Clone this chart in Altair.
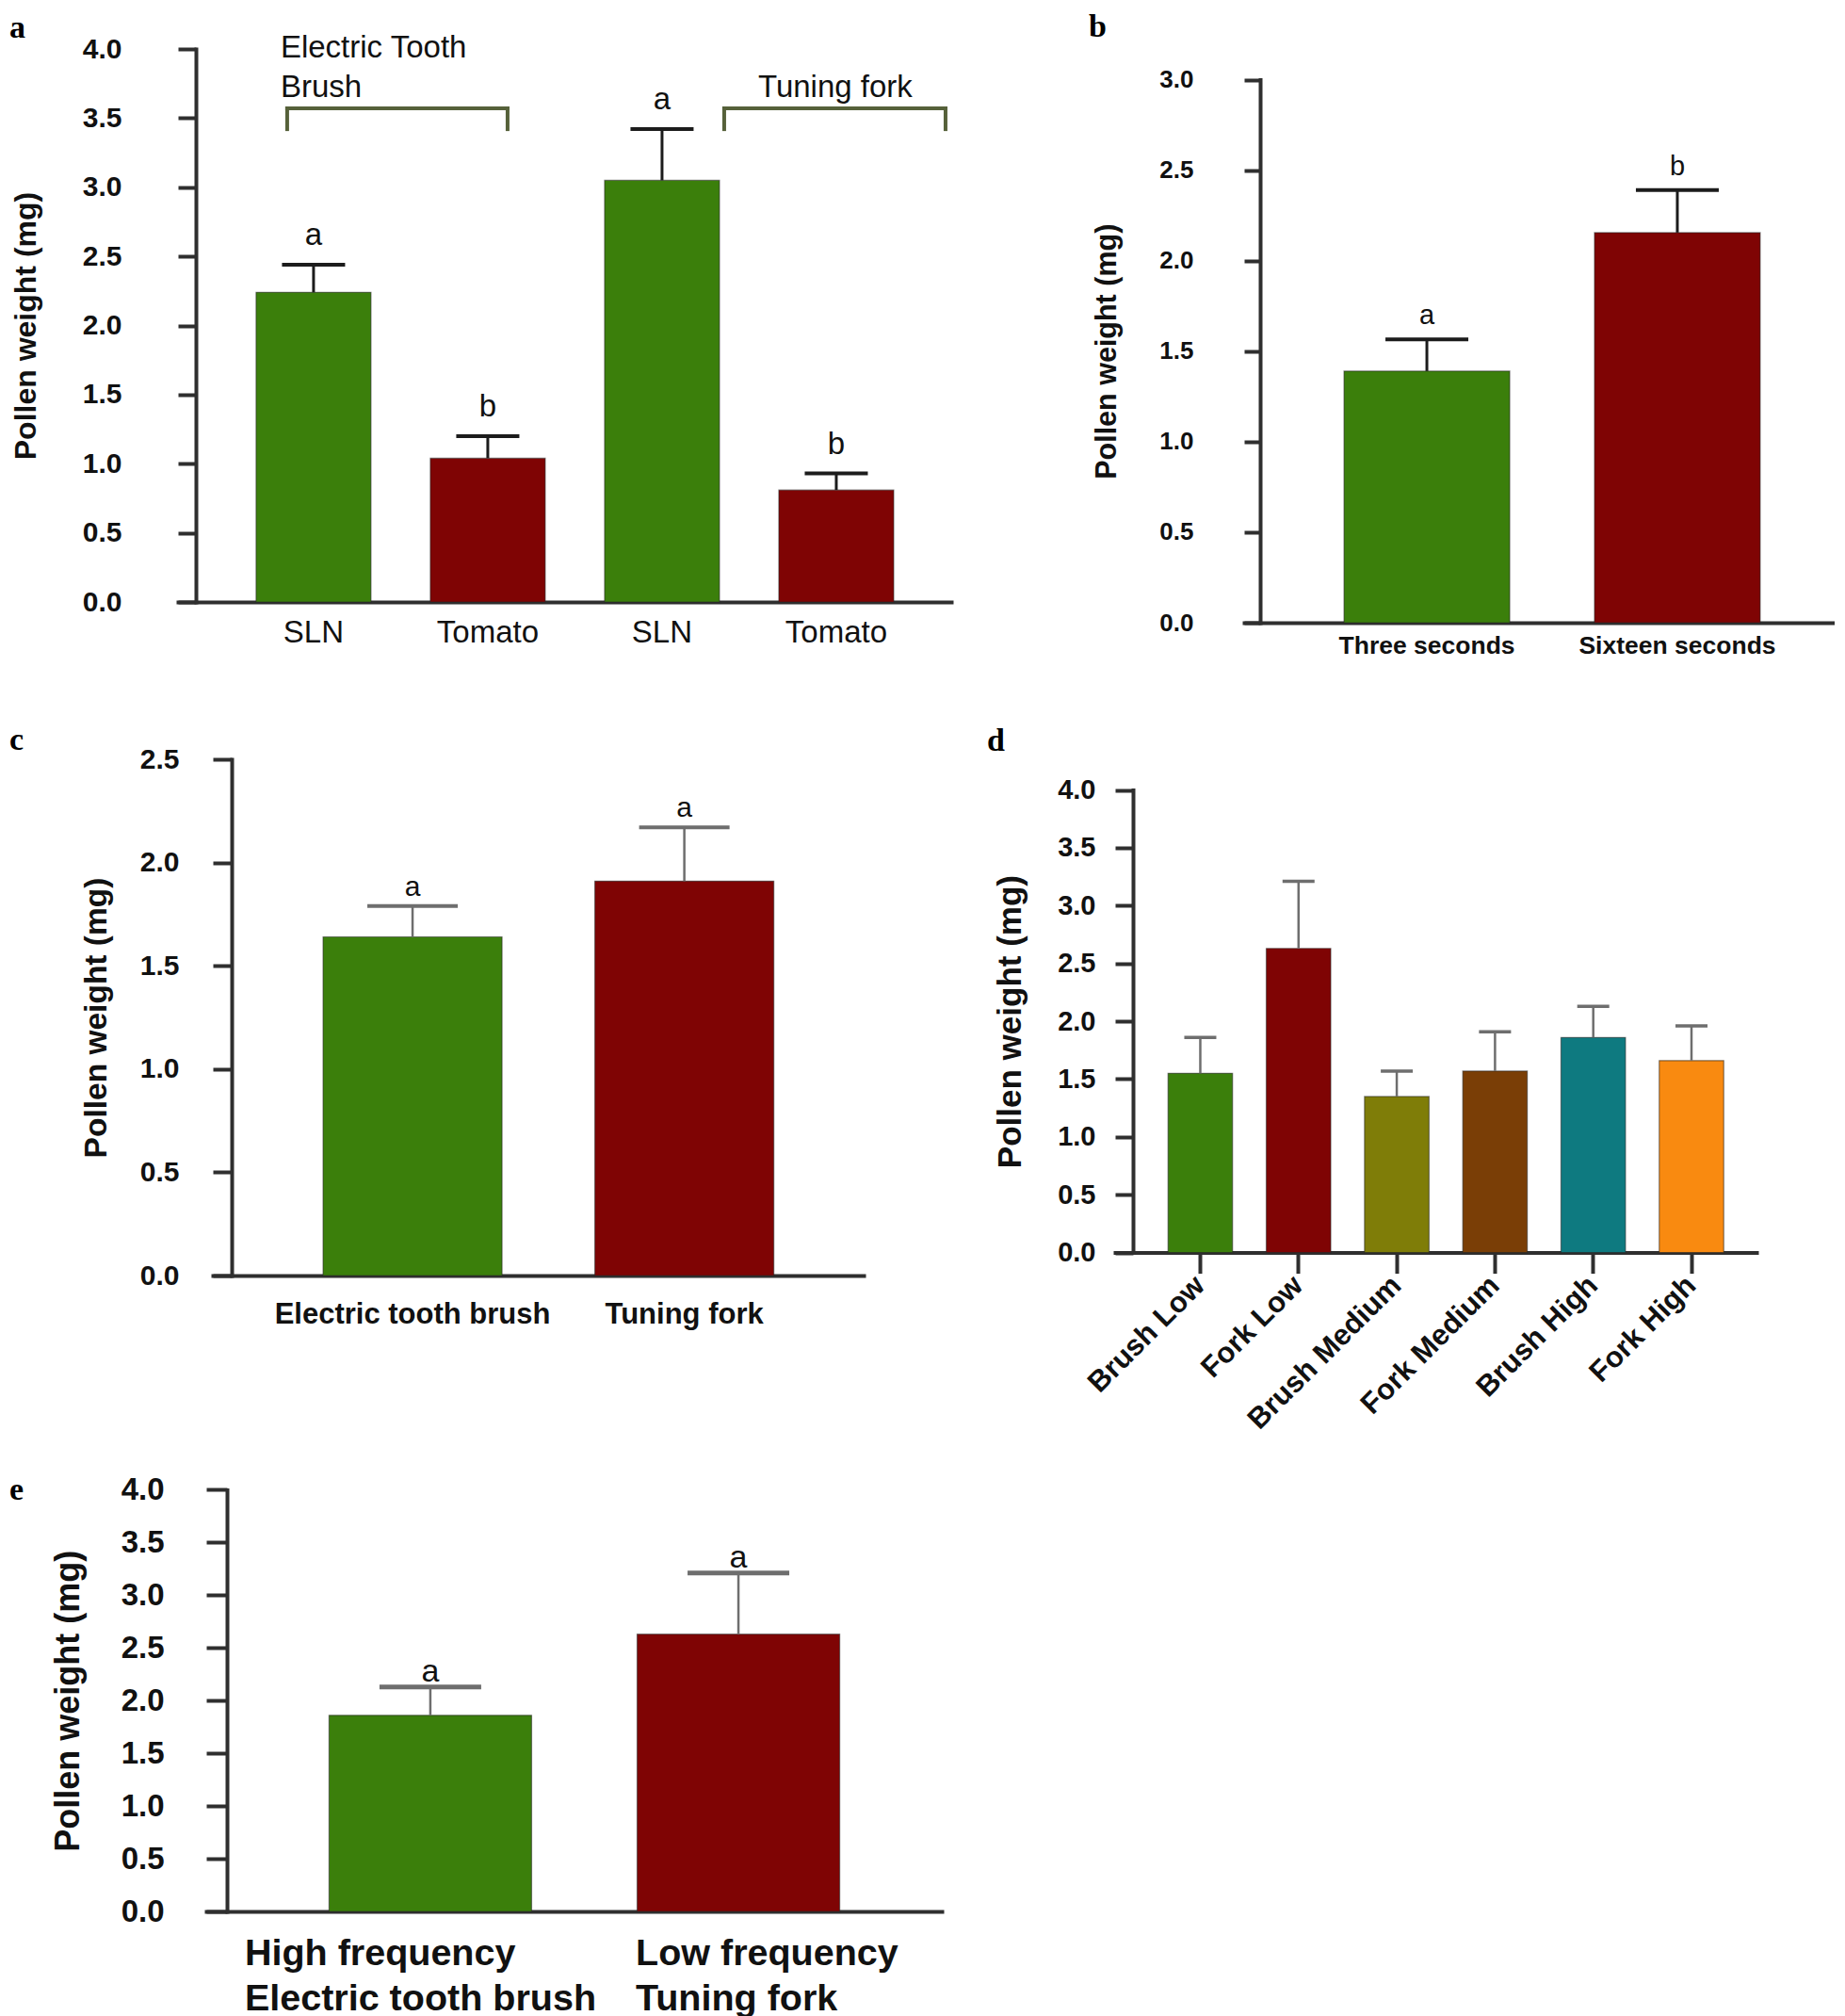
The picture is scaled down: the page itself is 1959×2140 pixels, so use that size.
import altair as alt
import pandas as pd

SANS = "Liberation Sans"
SERIF = "Liberation Serif"
AX = "#2f2f2f"
TXT = "#111111"
ERR_DARK = "#1c1c1c"
ERR_GRAY = "#6e6e6e"
BRACKET = "#56613a"
GREEN = "#3b7f0b"
RED = "#7f0404"

# ---------------- data ----------------
a_cats = ["SLN-brush", "Tomato-brush", "SLN-fork", "Tomato-fork"]
a_labels = ["SLN", "Tomato", "SLN", "Tomato"]
a_means = [2.24, 1.04, 3.05, 0.81]
a_errs = [2.44, 1.20, 3.42, 0.93]
a_letters = ["a", "b", "a", "b"]
a_colors = [GREEN, RED, GREEN, RED]
a_groups = ["Electric Tooth\nBrush", "Tuning fork"]

b_cats = ["Three seconds", "Sixteen seconds"]
b_means = [1.39, 2.155]
b_errs = [1.565, 2.39]
b_letters = ["a", "b"]
b_colors = [GREEN, RED]

c_cats = ["Electric tooth brush", "Tuning fork"]
c_means = [1.64, 1.91]
c_errs = [1.79, 2.17]
c_letters = ["a", "a"]
c_colors = [GREEN, RED]

d_cats = ["Brush Low", "Fork Low", "Brush Medium", "Fork Medium", "Brush High", "Fork High"]
d_means = [1.55, 2.63, 1.35, 1.57, 1.86, 1.66]
d_errs = [1.86, 3.21, 1.57, 1.91, 2.13, 1.96]
d_letters = ["", "", "", "", "", ""]
d_colors = [GREEN, RED, "#7f7d08", "#7a3e06", "#0e7a80", "#f98a10"]

e_cats = ["High frequency", "Low frequency"]
e_sub = ["Electric tooth brush", "Tuning fork"]
e_means = [1.86, 2.63]
e_errs = [2.13, 3.21]
e_letters = ["a", "a"]
e_colors = [GREEN, RED]

ticks4 = [0.0, 0.5, 1.0, 1.5, 2.0, 2.5, 3.0, 3.5, 4.0]
ticks3 = [0.0, 0.5, 1.0, 1.5, 2.0, 2.5, 3.0]
ticks25 = [0.0, 0.5, 1.0, 1.5, 2.0, 2.5]


def ternary_expr(keys, values):
    expr = values[-1]
    for k, v in reversed(list(zip(keys[:-1], values[:-1]))):
        expr = f"datum.value == '{k}' ? {v} : ({expr})"
    return expr


def panel(cats, means, errs, colors, letters, s, letter, label_expr=None, extra=None):
    df = pd.DataFrame({"cat": cats, "mean": means, "err": errs,
                       "color": colors, "letter": letters})
    xs = alt.Scale(domain=cats, range=[s["ax0"] - s["ytick"], s["W"]],
                   paddingInner=s["pi"], paddingOuter=s["po"], align=s["align"])
    ys = alt.Scale(domain=[0, s["ticks"][-1]], range=[s["H"], s["gap"]],
                   nice=False, zero=False)
    xkw = dict(title=None, domain=True, domainColor=AX, domainWidth=4,
               domainCap="square", labelFont=SANS, labelFontSize=s["xfs"],
               labelFontWeight=s["xfw"], labelColor=TXT, labelPadding=s["xpad"],
               labelLimit=0, labelOverlap=False, grid=False,
               ticks=s["xtick"] > 0, tickSize=s["xtick"], tickWidth=4,
               tickColor=AX, labelAngle=s.get("angle", 0))
    if label_expr:
        xkw["labelExpr"] = label_expr
    xkw.update(s.get("xextra", {}))
    xaxis = alt.Axis(**xkw)
    yaxis = alt.Axis(values=s["ticks"], format=".1f", domain=True, domainColor=AX,
                     domainWidth=4, domainCap="square", ticks=True,
                     tickSize=s["ytick"], tickWidth=4, tickColor=AX,
                     labelPadding=s["ypad"], labelFont=SANS,
                     labelFontSize=s["yfs"],
                     labelFontWeight="bold", labelColor=TXT, grid=False,
                     title="Pollen weight (mg)", titleFont=SANS,
                     titleFontSize=s["tfs"], titleFontWeight="bold", titleColor=TXT,
                     titleX=s["tx"], titleY=s["gap"] + (s["H"] - s["gap"]) / 2,
                     titleAngle=270, titleAlign="center", titleBaseline="middle",
                     offset=-s["ax0"])
    X = alt.X("cat:N", sort=cats, scale=xs, axis=xaxis)

    def Y(f):
        return alt.Y(f"{f}:Q", scale=ys, axis=yaxis)

    base = alt.Chart(df)
    bars = base.mark_bar(stroke="#262626", strokeWidth=1.2, strokeOpacity=0.55).encode(
        x=X, y=Y("mean"), color=alt.Color("color:N", scale=None))
    stem = base.mark_rule(color=s["ec"], strokeWidth=s["ew"]).encode(
        x=X, y=Y("mean"), y2="err:Q")
    cap = base.mark_tick(orient="horizontal", color=s["ec"], size=s["cap"],
                         thickness=s["capw"], opacity=1).encode(x=X, y=Y("err"))
    layers = [bars, stem, cap]
    if any(letters):
        txt = base.mark_text(font=SANS, fontSize=s["lfs"], dy=-s["lgap"],
                             baseline="alphabetic", color=TXT).encode(
            x=X, y=Y("err"), text="letter:N")
        layers.append(txt)
    if extra:
        layers += extra(X, Y)
    title = alt.TitleParams(text=letter, anchor="start", frame="group", orient="top",
                            offset=0, dx=s["pdx"], dy=s["pdy"], font=SERIF,
                            fontSize=34, fontWeight="bold", color="black",
                            baseline="alphabetic")
    return alt.layer(*layers).properties(width=s["W"], height=s["H"], title=title)


# ---------------- panel a ----------------
sa = dict(W=802, H=587, gap=0, ax0=0, ytick=19, pi=0.3405, po=0.389, align=0.576,
          ticks=ticks4, yfs=30, ypad=60, tfs=32, tx=-181,
          xfs=33, xfw="normal", xpad=16, xtick=0, ec=ERR_DARK, ew=3,
          cap=67, capw=4, lfs=33, lgap=21, pdx=-198, pdy=39)

one = pd.DataFrame({"k": [0]})
br_top, br_bot = 3.57, 3.42


def extra_a(X, Y):
    out = []
    # group labels
    out.append(alt.Chart(one).mark_text(font=SANS, fontSize=33, align="left",
                                        baseline="alphabetic", lineBreak="\n",
                                        lineHeight=42, dx=-35, color=TXT).encode(
        x=alt.datum(a_cats[0]), y=alt.datum(3.94), text=alt.value(a_groups[0])))
    out.append(alt.Chart(one).mark_text(font=SANS, fontSize=33, align="left",
                                        baseline="alphabetic", dx=-83, color=TXT).encode(
        x=alt.datum(a_cats[3]), y=alt.datum(3.65), text=alt.value(a_groups[1])))
    # brackets
    for c1, c2, o1, o2 in [(a_cats[0], a_cats[1], -28, 21), (a_cats[2], a_cats[3], 66, 116)]:
        out.append(alt.Chart(one).mark_rule(color=BRACKET, strokeWidth=4, strokeCap="square",
                                            xOffset=o1, x2Offset=o2).encode(
            x=alt.datum(c1), x2=alt.datum(c2), y=alt.datum(br_top)))
        for c, o in [(c1, o1), (c2, o2)]:
            out.append(alt.Chart(one).mark_rule(color=BRACKET, strokeWidth=4,
                                                strokeCap="square", xOffset=o).encode(
                x=alt.datum(c), y=alt.datum(br_top), y2=alt.datum(br_bot)))
    return out


pa = panel(a_cats, a_means, a_errs, a_colors, a_letters, sa, "a",
           label_expr=ternary_expr(a_cats, [f"'{l}'" for l in a_labels]),
           extra=extra_a)

# ---------------- panel b ----------------
sb = dict(W=745, H=609, gap=32.5, ax0=135, ytick=17, pi=0.3383, po=0.348, align=0.573,
          ticks=ticks3, yfs=26, ypad=54, tfs=30.5, tx=-162.5, xfs=26.5, xfw="bold",
          xpad=11, xtick=0, ec=ERR_DARK, ew=3, cap=88, capw=4, lfs=29, lgap=16,
          pdx=-47, pdy=21)
pb = panel(b_cats, b_means, b_errs, b_colors, b_letters, sb, "b")

# ---------------- panel c ----------------
sc = dict(W=709, H=548, gap=0, ax0=38, ytick=20, pi=0.3414, po=0.368, align=0.551,
          ticks=ticks25, yfs=30, ypad=36, tfs=33.5, tx=-143.5, xfs=31, xfw="bold",
          xpad=26, xtick=0, ec=ERR_GRAY, ew=2.5, cap=96, capw=4, lfs=30, lgap=11,
          pdx=-198, pdy=39)
pc = panel(c_cats, c_means, c_errs, c_colors, c_letters, sc, "c")

# ---------------- panel d ----------------
sd = dict(W=662, H=523.6, gap=32.6, ax0=0, ytick=19, pi=0.3432, po=0.436, align=0.618,
          ticks=ticks4, yfs=29, ypad=21, tfs=35, tx=-130.5, xfs=31, xfw="bold",
          xpad=8, xtick=22, angle=-45, ec=ERR_GRAY, ew=2.5, cap=34, capw=3.5,
          lfs=29, lgap=10, pdx=-155, pdy=25,
          xextra=dict(labelAlign="right", labelBaseline="middle"))
pd_ = panel(d_cats, d_means, d_errs, d_colors, d_letters, sd, "d")

# ---------------- panel e ----------------
se = dict(W=792, H=530, gap=82.4, ax0=33, ytick=22, pi=0.3425, po=0.365, align=0.546,
          ticks=ticks4, yfs=33, ypad=45, tfs=36, tx=-168.7, xfs=39.5,
          xfw="bold", xpad=25, xtick=0, ec=ERR_GRAY, ew=2.5, cap=108, capw=5, lfs=34,
          lgap=6, pdx=-198, pdy=127,
          xextra=dict(labelAlign="left", labelBaseline="top", labelLineHeight=48,
                      labelOffset={"condition": {"test": f"datum.value == '{e_cats[0]}'",
                                                 "value": -197}, "value": -109}))
e_expr = ternary_expr(e_cats, [f"['{a}', '{b}']" for a, b in zip(e_cats, e_sub)])
pe = panel(e_cats, e_means, e_errs, e_colors, e_letters, se, "e", label_expr=e_expr)

chart = alt.concat(pa, pb, pc, pd_, pe, columns=2,
                   spacing=alt.RowColnumber(row=145, column=193),
                   bounds="flush", align="each").properties(
    padding={"left": 2, "top": 4, "right": 0, "bottom": 0}, background="white"
).configure(font=SANS).configure_view(stroke="transparent", strokeWidth=0)

chart.save("out.html", embed_options={"renderer": "svg", "actions": False})
